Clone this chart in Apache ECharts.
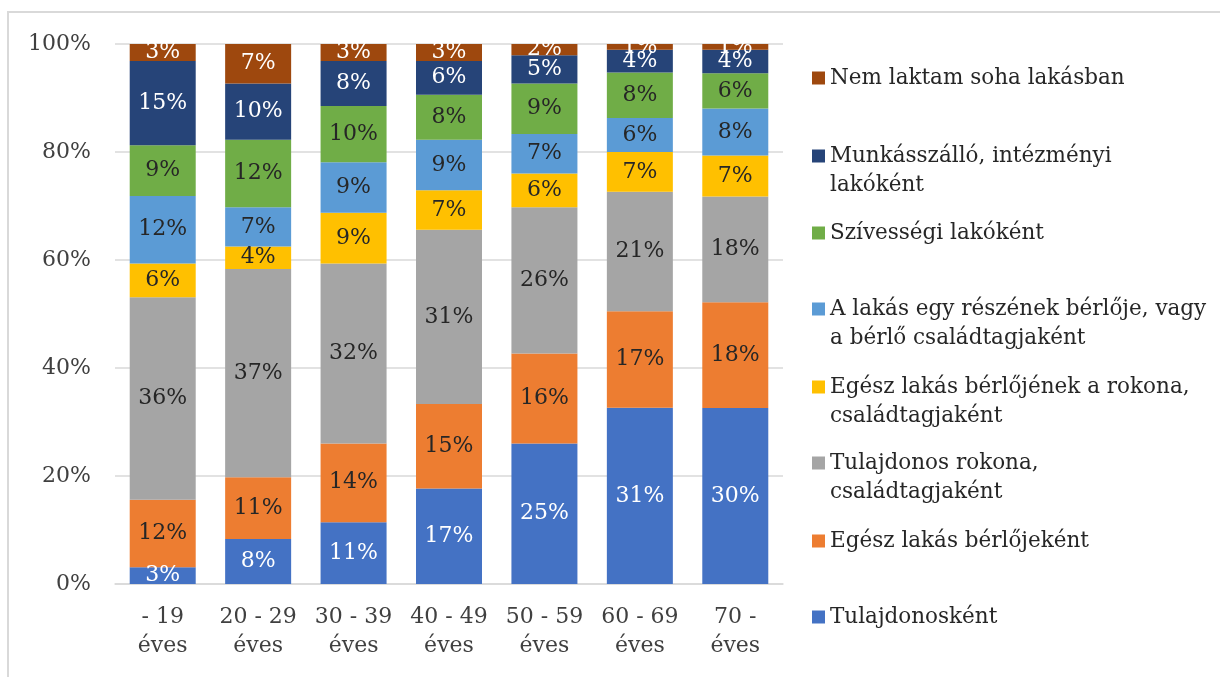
<!DOCTYPE html>
<html lang="hu">
<head>
<meta charset="utf-8">
<title>Lakhatási forma korcsoportonként</title>
<script src="https://cdn.jsdelivr.net/npm/echarts@6/dist/echarts.min.js"></script>
<style>
  html, body { margin: 0; padding: 0; background: #ffffff; }
  body { width: 1220px; height: 677px; position: relative; overflow: hidden; }
  #frame {
    position: absolute; left: 7px; top: 11px; width: 1300px; height: 700px;
    border-left: 2px solid #d9d9d9; border-top: 2px solid #d9d9d9;
    box-sizing: border-box;
  }
  #chart { position: absolute; left: 0; top: 0; width: 1220px; height: 677px; }
</style>
</head>
<body>
<div id="frame"></div>
<div id="chart"></div>
<script>
// Age groups (x axis)
const categories = ['- 19\néves', '20 - 29\néves', '30 - 39\néves', '40 - 49\néves',
                    '50 - 59\néves', '60 - 69\néves', '70 -\néves'];

// Series names, bottom of the stack first
const seriesNames = [
  'Tulajdonosként',
  'Egész lakás bérlőjeként',
  'Tulajdonos rokona, családtagjaként',
  'Egész lakás bérlőjének a rokona, családtagjaként',
  'A lakás egy részének bérlője, vagy a bérlő családtagjaként',
  'Szívességi lakóként',
  'Munkásszálló, intézményi lakóként',
  'Nem laktam soha lakásban'
];

// Legend text as wrapped on screen
const legendText = [
  'Tulajdonosként',
  'Egész lakás bérlőjeként',
  'Tulajdonos rokona,\ncsaládtagjaként',
  'Egész lakás bérlőjének a rokona,\ncsaládtagjaként',
  'A lakás egy részének bérlője, vagy\na bérlő családtagjaként',
  'Szívességi lakóként',
  'Munkásszálló, intézményi\nlakóként',
  'Nem laktam soha lakásban'
];

// Percent values per age group
const tulajdonos      = [3, 8, 11, 17, 25, 31, 30];
const egeszBerlo      = [12, 11, 14, 15, 16, 17, 18];
const tulajRokona     = [36, 37, 32, 31, 26, 21, 18];
const berloRokona     = [6, 4, 9, 7, 6, 7, 7];
const reszBerlo       = [12, 7, 9, 9, 7, 6, 8];
const szivessegi      = [9, 12, 10, 8, 9, 8, 6];
const munkasszallo    = [15, 10, 8, 6, 5, 4, 4];
const nemLaktam       = [3, 7, 3, 3, 2, 1, 1];

const yTicks = [0, 20, 40, 60, 80, 100];

const rawSeries = [tulajdonos, egeszBerlo, tulajRokona, berloRokona,
                   reszBerlo, szivessegi, munkasszallo, nemLaktam];

const colors = ['#4472C4', '#ED7D31', '#A5A5A5', '#FFC000',
                '#5B9BD5', '#70AD47', '#264478', '#9E480E'];
const labelColors = ['#ffffff', '#262626', '#262626', '#262626',
                     '#262626', '#262626', '#ffffff', '#ffffff'];

// 100% stacking: each column is scaled to its own total
const totals = categories.map((_, i) => rawSeries.reduce((s, arr) => s + arr[i], 0));

const FONT = '"DejaVu Serif", "Liberation Serif", serif';

const series = rawSeries.map((arr, si) => ({
  name: seriesNames[si],
  type: 'bar',
  stack: 'total',
  barWidth: 66,
  itemStyle: { color: colors[si] },
  label: {
    show: true,
    position: 'inside',
    color: labelColors[si],
    fontFamily: FONT,
    fontSize: 22,
    formatter: p => rawSeries[si][p.dataIndex] + '%'
  },
  data: arr.map((v, i) => v / totals[i] * 100)
}));

// Legend layout: centre of each entry's first line, bottom entry first.
// Two-line entries get a blank leading line so the marker sits beside the first line.
const legendFirstLine = [617, 541, 463, 387, 309, 233, 156, 78];
const LH = 29.5;
const legends = seriesNames.map((name, si) => {
  const twoLines = legendText[si].indexOf('\n') >= 0;
  return {
    data: [name],
    left: 812,
    top: twoLines ? legendFirstLine[si] - 1.5 * LH : legendFirstLine[si] - LH / 2,
    padding: 0,
    itemWidth: 13,
    itemHeight: 13,
    icon: 'rect',
    selectedMode: false,
    formatter: () => (twoLines ? '\n' : '') + legendText[si],
    textStyle: {
      fontFamily: FONT,
      fontSize: 21.5,
      color: '#262626',
      lineHeight: LH
    }
  };
});

const chart = echarts.init(document.getElementById('chart'), null, { renderer: 'canvas' });
chart.setOption({
  animation: false,
  backgroundColor: 'transparent',
  textStyle: { fontFamily: FONT },
  grid: { left: 115, top: 44, width: 668, height: 540 },
  legend: legends,
  xAxis: {
    type: 'category',
    data: categories,
    axisTick: { show: false },
    axisLine: { lineStyle: { color: '#d9d9d9', width: 1.5 } },
    axisLabel: {
      fontFamily: FONT,
      fontSize: 22,
      color: '#404040',
      lineHeight: 29,
      margin: 19,
      interval: 0
    }
  },
  yAxis: {
    type: 'value',
    min: yTicks[0],
    max: yTicks[yTicks.length - 1],
    interval: yTicks[1] - yTicks[0],
    axisLine: { show: false },
    axisTick: { show: false },
    splitLine: { lineStyle: { color: '#d9d9d9', width: 1.5 } },
    axisLabel: {
      fontFamily: FONT,
      fontSize: 22,
      color: '#404040',
      margin: 24,
      formatter: v => v + '%'
    }
  },
  series: series
});
</script>
</body>
</html>
